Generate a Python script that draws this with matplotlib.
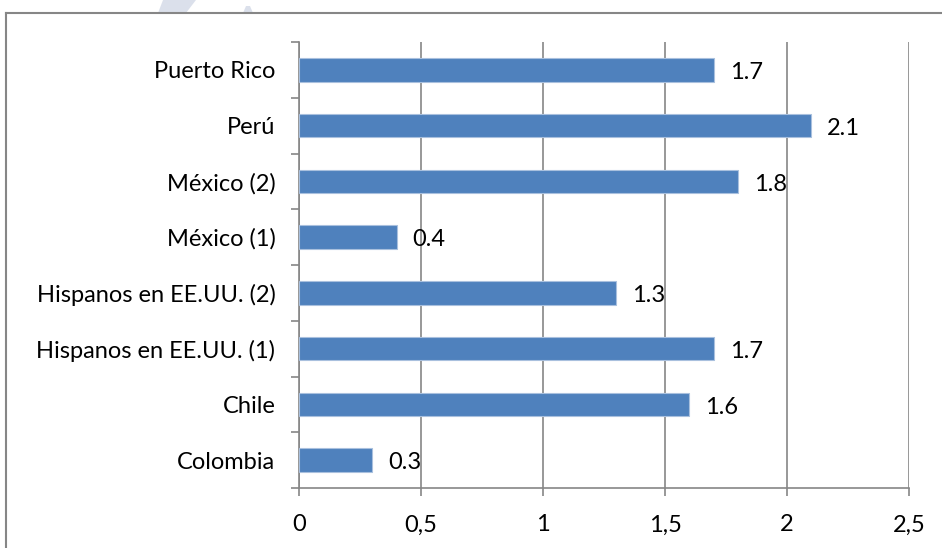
#!/usr/bin/env python3
'''Horizontal bar chart, Excel look, saved to out.png'''
import matplotlib
matplotlib.use('Agg')
import matplotlib.pyplot as plt
from matplotlib.lines import Line2D
from matplotlib.patches import Polygon
import numpy as np

paises = ['Colombia', 'Chile', 'Hispanos en EE.UU. (1)', 'Hispanos en EE.UU. (2)',
          'México (1)', 'México (2)', 'Perú', 'Puerto Rico']
valores = [0.3, 1.6, 1.7, 1.3, 0.4, 1.8, 2.1, 1.7]
xticks = [0, 0.5, 1, 1.5, 2, 2.5]
xlabels = ['0', '0,5', '1', '1,5', '2', '2,5']

AZUL = '#4F81BD'
GRIS = '#868686'
W, H = 942, 548
FS = 17

plt.rcParams['font.family'] = ['Lato', 'DejaVu Sans']

fig = plt.figure(figsize=(W / 100, H / 100), dpi=100)
ax = fig.add_axes([299 / W, 1 - 488 / H, (909 - 299) / W, (488 - 42) / H])

y = np.arange(len(paises))
ax.barh(y, valores, height=0.42, color=AZUL, edgecolor='#a9c0de', linewidth=0.8, zorder=3)

for yi, v in zip(y, valores):
    ax.annotate(str(v), (v, yi), xytext=(11.5, -2), textcoords='offset points',
                ha='left', va='center', fontsize=FS, color='black', zorder=4)

ax.set_xlim(0, 2.5)
ax.set_ylim(-0.5, len(paises) - 0.5)
ax.set_xticks(xticks)
ax.set_xticklabels(xlabels, fontsize=FS)
ax.set_yticks(y)
ax.set_yticklabels(paises, fontsize=FS)
ax.set_yticks(np.arange(len(paises) + 1) - 0.5, minor=True)

ax.tick_params(axis='y', which='major', length=0, pad=17)
ax.tick_params(axis='y', which='minor', length=6, width=1.2, color=GRIS, direction='out')
ax.tick_params(axis='x', length=6, width=1.2, color=GRIS, direction='out', pad=13)

ax.grid(axis='x', color=GRIS, linewidth=1.2, zorder=0)
ax.set_axisbelow(True)
for s in ['top', 'right']:
    ax.spines[s].set_visible(False)
for s in ['left', 'bottom']:
    ax.spines[s].set_color(GRIS)
    ax.spines[s].set_linewidth(1.2)

# marco exterior del gráfico (recortado a la derecha y abajo)
fig.add_artist(Line2D([6 / W, 6 / W], [0, 1 - 13 / H], color=GRIS, linewidth=1.5))
fig.add_artist(Line2D([6 / W, 1], [1 - 13 / H, 1 - 13 / H], color=GRIS, linewidth=1.5))

# marca de agua tenue en la parte superior
def px(pts):
    return [(a / W, 1 - b / H) for a, b in pts]

fig.add_artist(Polygon(px([(163, 0), (196, 0), (186, 13), (158, 13)]),
                       closed=True, color='#d3d9e7', alpha=0.8, linewidth=0))
fig.add_artist(Polygon(px([(246, 6), (250, 6), (253, 13), (243, 13)]),
                       closed=True, color='#d3d9e7', alpha=0.8, linewidth=0))

fig.savefig('out.png', dpi=100)
